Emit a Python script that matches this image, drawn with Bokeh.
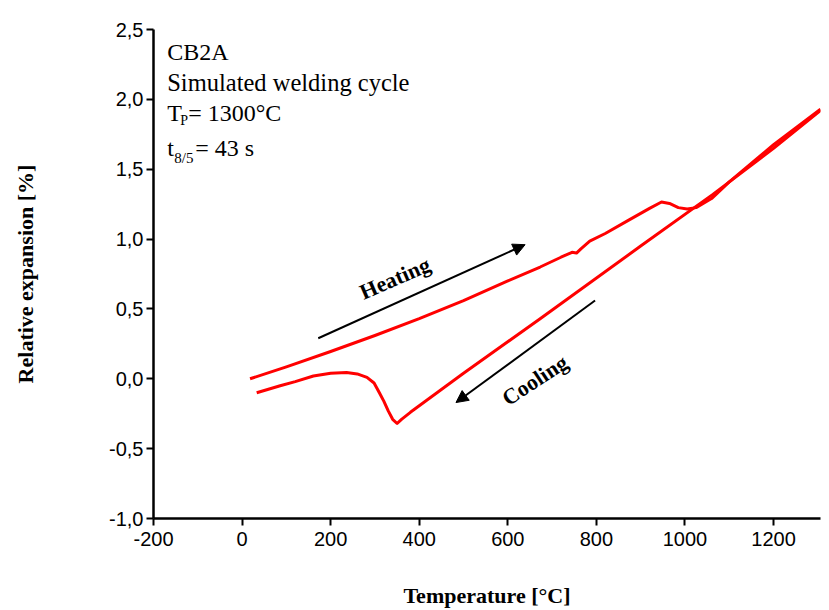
from bokeh.plotting import figure
from bokeh.models import (Range1d, FixedTicker, CustomJSTickFormatter, Label,
                          Arrow, NormalHead, ColumnDataSource)
from bokeh.embed import file_html
from bokeh.resources import INLINE

# ---- data ----
heating_T = [18, 100, 200, 300, 400, 500, 600, 673, 720, 745, 755, 765, 785, 820,
             870, 920, 947, 965, 985, 1005, 1025, 1060, 1100, 1200, 1306]
heating_dL = [0.00, 0.085, 0.195, 0.31, 0.43, 0.56, 0.70, 0.80, 0.87, 0.905, 0.90,
              0.93, 0.985, 1.04, 1.13, 1.22, 1.265, 1.255, 1.225, 1.215, 1.225,
              1.29, 1.41, 1.675, 1.93]

cooling_T = [1306, 1200, 1063, 900, 673, 500, 380, 360, 350, 340, 330, 320,
             310, 298, 282, 260, 236, 200, 161, 120, 86, 33]
cooling_dL = [1.92, 1.65, 1.32, 0.95, 0.43, 0.04, -0.24, -0.29, -0.32, -0.29,
              -0.23, -0.16, -0.10, -0.03, 0.01, 0.035, 0.045, 0.04, 0.02, -0.02,
              -0.05, -0.10]

x_ticks = [-200, 0, 200, 400, 600, 800, 1000, 1200]
y_ticks = [-1.0, -0.5, 0.0, 0.5, 1.0, 1.5, 2.0, 2.5]

heat_src = ColumnDataSource(dict(T=heating_T, dL=heating_dL))
cool_src = ColumnDataSource(dict(T=cooling_T, dL=cooling_dL))

p = figure(width=829, height=610, output_backend="svg", toolbar_location=None,
           x_range=Range1d(-200, 1306), y_range=Range1d(-1.0, 2.5),
           min_border_left=153, min_border_right=9, min_border_top=29,
           min_border_bottom=92)
p.outline_line_color = None
p.grid.visible = False
p.background_fill_color = "white"
p.border_fill_color = "white"

for ax in (p.xaxis[0], p.yaxis[0]):
    ax.axis_line_width = 2.5
    ax.axis_line_color = "black"
    ax.major_tick_line_width = 2
    ax.major_tick_line_color = "black"
    ax.major_tick_out = 7
    ax.major_tick_in = 0
    ax.minor_tick_line_color = None
    ax.major_label_text_font = "Liberation Sans"
    ax.major_label_text_font_size = "20px"
    ax.major_label_text_color = "black"
    ax.axis_label_text_font = "Liberation Serif"
    ax.axis_label_text_font_style = "bold"
    ax.axis_label_text_font_size = "22px"
    ax.axis_label_text_color = "black"

p.xaxis.ticker = FixedTicker(ticks=x_ticks)
p.yaxis.ticker = FixedTicker(ticks=y_ticks)
p.xaxis.formatter = CustomJSTickFormatter(code="return tick.toFixed(0);")
p.yaxis.formatter = CustomJSTickFormatter(code="return tick.toFixed(1).replace('.', ',');")
p.xaxis.major_label_standoff = 6
p.yaxis.major_label_standoff = 3
p.xaxis.axis_label = "Temperature [°C]"
p.yaxis.axis_label = "Relative expansion [%]"
p.xaxis.axis_label_standoff = 34
p.yaxis.axis_label_standoff = 68

p.line("T", "dL", source=heat_src, line_color="#ff0000", line_width=3, line_join="round")
p.line("T", "dL", source=cool_src, line_color="#ff0000", line_width=3, line_join="round")

# arrows
p.add_layout(Arrow(end=NormalHead(size=12, fill_color="black", line_color="black"),
                   x_start=172, y_start=0.29, x_end=639, y_end=0.96,
                   line_width=2, line_color="black"))
p.add_layout(Arrow(end=NormalHead(size=12, fill_color="black", line_color="black"),
                   x_start=797, y_start=0.56, x_end=483, y_end=-0.17,
                   line_width=2, line_color="black"))

p.add_layout(Label(x=345, y=0.72, text="Heating", angle=0.41, text_font="Liberation Serif",
                   text_font_style="bold", text_font_size="22px", text_align="center",
                   text_baseline="middle", text_color="black"))
p.add_layout(Label(x=661, y=-0.01, text="Cooling", angle=0.58, text_font="Liberation Serif",
                   text_font_style="bold", text_font_size="22px", text_align="center",
                   text_baseline="middle", text_color="black"))

# top-left annotation
ax0 = -169
serif = "Liberation Serif"
def lab(text, y, xo=0, yo=0, size="24px"):
    p.add_layout(Label(x=ax0, y=y, x_offset=xo, y_offset=yo, text=text,
                       text_font=serif, text_font_size=size, text_color="black",
                       text_baseline="alphabetic", text_align="left"))

lab("CB2A", 2.338)
lab("Simulated welding cycle", 2.123, size="24.5px")
lab("T", 1.901)
lab("P", 1.901, xo=13, yo=-7, size="14px")
lab("= 1300°C", 1.901, xo=21)
lab("t", 1.649)
lab("8/5", 1.649, xo=7, yo=-10, size="15px")
lab("= 43 s", 1.649, xo=28)

open("out.html", "w").write(file_html(p, INLINE))
